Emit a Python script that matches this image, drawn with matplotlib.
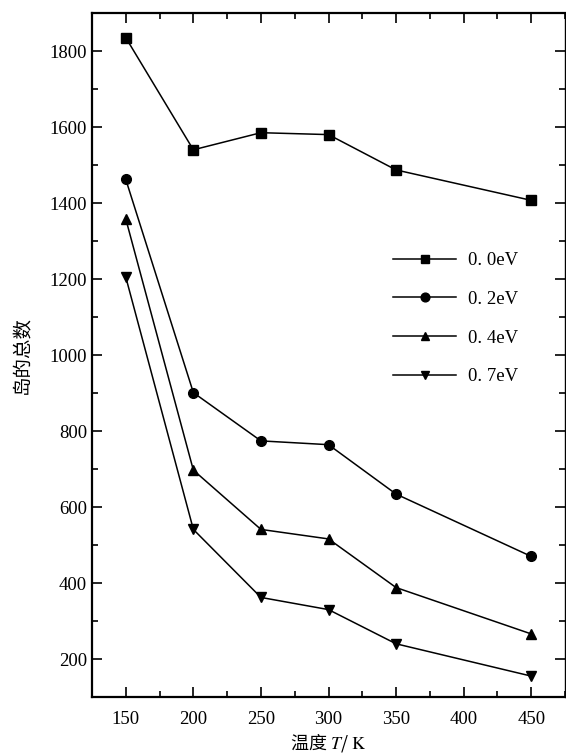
import numpy as np
import matplotlib
matplotlib.use("Agg")
import matplotlib.pyplot as plt
from matplotlib.ticker import MultipleLocator

plt.rcParams['font.family'] = ['Liberation Serif', 'Noto Sans CJK SC', 'DejaVu Sans']
plt.rcParams['mathtext.fontset'] = 'stix'

# 数据
temps = [150, 200, 250, 300, 350, 450]
island_00 = [1835, 1540, 1585, 1580, 1487, 1407]
island_02 = [1462, 901, 774, 764, 634, 470]
island_04 = [1358, 697, 541, 516, 388, 266]
island_07 = [1205, 541, 362, 330, 240, 155]
labels = ['0. 0eV', '0. 2eV', '0. 4eV', '0. 7eV']

fig = plt.figure(figsize=(5.66, 7.54), dpi=100)
ax = fig.add_axes([92 / 566, 1 - 697 / 754, 473 / 566, 684 / 754])

series = [island_00, island_02, island_04, island_07]
markers = ['s', 'o', '^', 'v']
for vals, mk, lab in zip(series, markers, labels):
    ax.plot(temps, vals, color='black', lw=1.1, marker=mk, ms=7, label=lab)

ax.set_xlim(125, 475)
ax.set_ylim(100, 1900)
ax.xaxis.set_major_locator(MultipleLocator(50))
ax.xaxis.set_minor_locator(MultipleLocator(25))
ax.yaxis.set_major_locator(MultipleLocator(200))
ax.yaxis.set_minor_locator(MultipleLocator(100))
ax.tick_params(which='both', direction='in', top=True, right=True,
               labeltop=False, labelright=False, width=1.2, labelsize=13.5)
ax.tick_params(which='major', length=7)
ax.tick_params(which='minor', length=4)
ax.tick_params(axis='x', pad=10)
for side in ['left', 'bottom', 'top']:
    ax.spines[side].set_linewidth(1.6)
ax.spines['right'].set_linewidth(1.0)

ax.set_xlabel(r'温度 $T$/ $\mathrm{K}$', fontsize=13, labelpad=2,
              family=['Noto Sans CJK SC', 'Liberation Serif'])
ax.set_ylabel('岛的总数', fontsize=14, family=['Noto Sans CJK SC', 'DejaVu Sans'], labelpad=12)

ax.legend(loc='upper left', bbox_to_anchor=(0.60, 0.675), frameon=False,
          fontsize=13.5, handlelength=3.4, handletextpad=0.6, labelspacing=1.15,
          markerscale=0.9)

fig.savefig('out.png', dpi=100)
